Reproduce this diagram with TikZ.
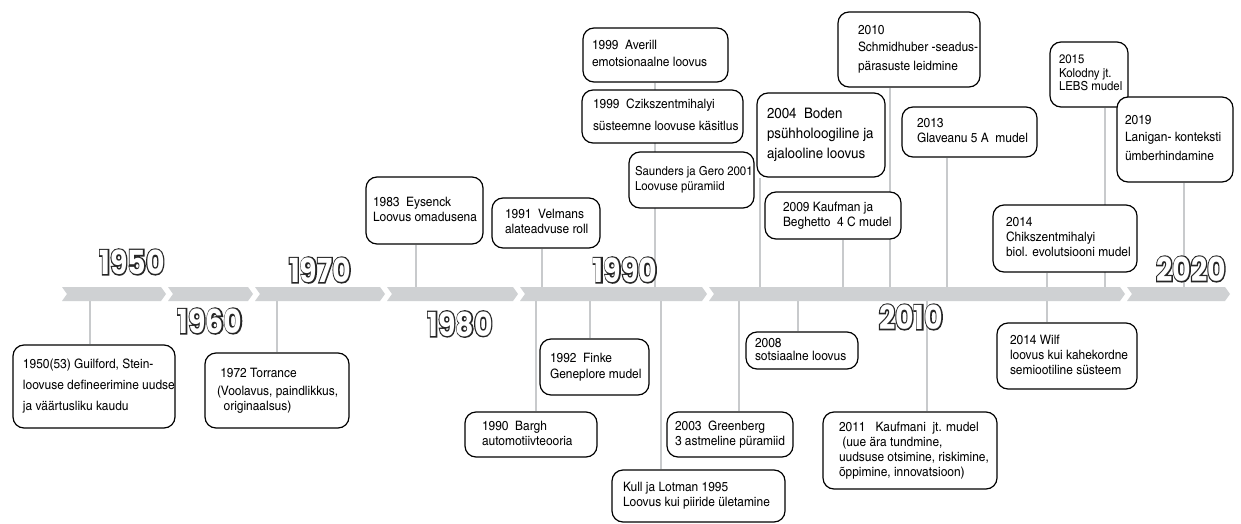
\documentclass[tikz,border=0pt]{standalone}
\usepackage{fontspec}
\setmainfont{texgyreheroscn-regular.otf}[FakeStretch=1.12]
\newfontfamily\decadefont{Poppins}
\usetikzlibrary{backgrounds}
\definecolor{bargray}{HTML}{CFD1D3}
\definecolor{linegray}{HTML}{C8CACC}
\newcommand\boxfont{\fontsize{13}{15}\selectfont}
\newcommand\smallboxfont{\fontsize{12.4}{14.5}\selectfont}

% one event box, given by its corners (in px) and the left padding of its text
\newcommand\evbox[8][\boxfont]{%
  \pgfmathsetmacro\bw{#5-#3}%
  \pgfmathsetmacro\bh{#6-#4}%
  \pgfmathsetmacro\tw{#5-#3-2*#2}%
  \node[evbox, font={#1}, inner xsep=#2pt, minimum width=\bw pt, minimum height=\bh pt]
    (#7) at ({(#3+#5)/2},{(#4+#6)/2})
    {\makebox[\tw pt][l]{\begin{tabular}{@{}l@{}}#8\end{tabular}}}}
% one chevron piece of the time bar
\newcommand\chev[2]{\fill[bargray] (#1,287) -- (#2-5,287) -- (#2,294) -- (#2-5,301)
  -- (#1,301) -- (#1+5,294) -- cycle;}
% stroked glyphs only (text render mode 1)
\newcommand\stroked[1]{\special{pdf:literal direct 1 Tr 2.8 w}#1\special{pdf:literal direct 0 Tr 1 w}}
% an outlined decade number: a dark stroked rim, the white number on top
\newcommand\decade[3]{%
  \node[decaderim] (d#1-rim) at (#2,#3) {\scalebox{0.86}[1]{\stroked{#1}}};
  \node[decade] (d#1) at (#2,#3) {\scalebox{0.86}[1]{#1}};}

\tikzset{
  evbox/.style={draw=black, line width=1.2pt, rounded corners=11pt, fill=white,
    align=left, inner ysep=0pt},
  conn/.style={draw=linegray, line width=1.4pt},
  decade/.style={inner sep=0pt, text=white,
    font=\decadefont\bfseries\fontsize{33}{33}\selectfont},
  decaderim/.style={decade, text=black!85},
}

\begin{document}
\begin{tikzpicture}[x=1pt,y=-1pt]
\useasboundingbox (0,0) rectangle (1241,524);

% time bar
\chev{62}{166}
\chev{168}{253}
\chev{255}{385}
\chev{387}{518}
\chev{520}{707}
\chev{709}{1125}
\chev{1127}{1230}

% feet of the connectors on the bar
\foreach \n/\x in {guil/90, torr/277, bargh/536, finke/590, kull/661, green/739,
                   sots/798, kauf/927, wilf/1047}
  \coordinate (b-\n) at (\x,301);
\foreach \n/\x in {eys/416, velm/542, stack/655, boden/760, kb/843, schm/890,
                   glav/947, chik/1047, kolo/1105, lani/1184}
  \coordinate (b-\n) at (\x,287);

% decades
\decade{1950}{132}{262}
\decade{1960}{210}{321}
\decade{1970}{320}{270}
\decade{1980}{460}{324}
\decade{1990}{625}{270}
\decade{2010}{911}{317}
\decade{2020}{1191}{269}

% boxes below the bar
\evbox{10}{13}{345}{175}{428}{guil}{1950(53) Guilford, Stein-\\[6pt]loovuse defineerimine uudse\\[6pt]ja väärtusliku kaudu};
\evbox{12}{205}{353}{349}{428}{torr}{\ 1972 Torrance\\[3pt](Voolavus, paindlikkus,\\\ \ originaalsus)};
\evbox{10}{540}{339}{649}{395}{finke}{1992\ \ Finke\\[1pt]Geneplore mudel};
\evbox{17}{465}{412}{597}{457}{bargh}{1990\ \ Bargh\\automotiivteooria};
\evbox{11}{612}{470}{785}{522}{kull}{Kull ja Lotman 1995\\Loovus kui piiride ületamine};
\evbox{8}{667}{412}{793}{457}{green}{2003\ \ Greenberg\\3 astmeline püramiid};
\evbox{9}{746}{332}{858}{369}{sots}{2008\\[-2pt]sotsiaalne loovus};
\evbox{16}{823}{412}{997}{489}{kauf}{2011\ \ \ Kaufmani\ \ jt. mudel\\\ (uue ära tundmine,\\uudsuse otsimine, riskimine,\\õppimine, innovatsioon)};
\evbox{13}{997}{323}{1137}{389}{wilf}{2014 Wilf\\loovus kui kahekordne\\semiootiline süsteem};

% boxes above the bar
\evbox{7}{366}{177}{483}{244}{eys}{1983\ \ Eysenck\\Loovus omadusena};
\evbox{13}{492}{198}{600}{248}{velm}{1991\ \ Velmans\\alateadvuse roll};
\evbox{9}{583}{28}{728}{82}{aver}{1999\ \ Averill\\[2pt]emotsionaalne loovus};
\evbox{11}{582}{90}{743}{143}{czik}{1999\ \ Czikszentmihalyi\\[7pt]süsteemne loovuse käsitlus};
\evbox[\smallboxfont]{6}{629}{152}{754}{208}{saund}{Saunders ja Gero 2001\\Loovuse püramiid};
\evbox[\fontsize{14.5}{17}\selectfont]{10}{757}{93}{885}{177}{boden}{2004\ \ Boden\\[3pt]psühholoogiline ja\\[3pt]ajalooline loovus};
\evbox{18}{765}{192}{901}{239}{kb}{2009 Kaufman ja\\Beghetto\ \ 4 C mudel};
\evbox{20}{838}{12}{980}{87}{schm}{2010\\[2pt]Schmidhuber -seadus-\\[4pt]pärasuste leidmine};
\evbox{15}{902}{107}{1037}{157}{glav}{2013\\Glaveanu 5 A\ \ mudel};
\evbox[\smallboxfont]{9}{1050}{42}{1128}{107}{kolo}{2015\\[-1pt]Kolodny jt.\\[-1pt]LEBS mudel};
\evbox{8}{1117}{97}{1233}{182}{lani}{2019\\[2pt]Lanigan- konteksti\\[4pt]ümberhindamine};
\evbox{13}{993}{205}{1137}{272}{chik}{2014\\Chikszentmihalyi\\biol. evolutsiooni mudel};

% connectors, kept behind the bar, the numbers and the boxes
\begin{scope}[on background layer]
  \fill[white] (0,0) rectangle (1241,524);
  \foreach \n in {guil, torr, bargh, finke, kull, green, sots, kauf, wilf}
    \draw[conn] (b-\n) -- (b-\n |- \n.north);
  \foreach \n in {eys, velm, boden, kb, schm, glav, chik, kolo, lani}
    \draw[conn] (b-\n) -- (b-\n |- \n.south);
  \draw[conn] (b-stack) -- (b-stack |- aver.south);
\end{scope}
\end{tikzpicture}
\end{document}
